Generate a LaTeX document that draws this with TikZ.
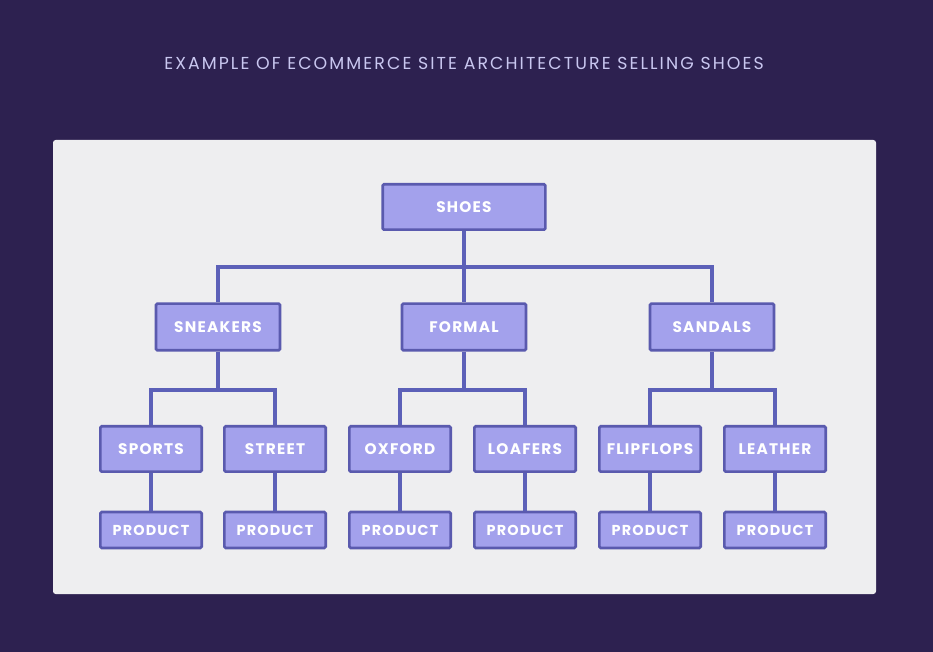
\documentclass[tikz,border=0pt]{standalone}
\usepackage{fontspec}
\setmainfont{Poppins}
\newfontfamily\titlefont{Poppins}[LetterSpace=12]
\newfontfamily\boxfont{Poppins}[LetterSpace=8]
\usetikzlibrary{positioning}
\definecolor{bgpurple}{HTML}{2D2150}
\definecolor{panelgray}{HTML}{EEEEF0}
\definecolor{boxfill}{HTML}{A3A1EC}
\definecolor{boxline}{HTML}{5A5AAE}
\definecolor{linkline}{HTML}{5C60B8}
\definecolor{titletext}{HTML}{C9C7F0}
\tikzset{
  box/.style={draw=boxline, fill=boxfill, line width=2pt, rounded corners=1pt,
    text=white, inner sep=0pt, font=\boxfont\bfseries\fontsize{11.5}{13}\selectfont},
  topbox/.style={box, minimum width=122pt, minimum height=34pt},
  catbox/.style={box, minimum width=93pt, minimum height=35pt},
  subbox/.style={box, minimum width=76pt, minimum height=34pt},
  prodbox/.style={box, minimum width=76pt, minimum height=27pt,
    font=\boxfont\bfseries\fontsize{10.8}{12}\selectfont},
  link/.style={draw=linkline, line width=2.5pt}
}
\begin{document}
\begin{tikzpicture}[x=0.75pt, y=-0.75pt]
    % background and panel
    \fill[bgpurple] (0,0) rectangle (933,652);
    \fill[panelgray, rounded corners=2pt] (53,140) rectangle (876,594);
    \node[text=titletext, font=\titlefont\fontsize{13}{15}\selectfont] (title) at (464,63)
        {EXAMPLE OF ECOMMERCE SITE ARCHITECTURE SELLING SHOES};

    \coordinate (rowa) at (0,267);
    \coordinate (rowb) at (0,390);
    \coordinate (rowc) at (0,530);

    % tree
    \node[topbox] (shoes) at (464,207) {SHOES};
    \node[catbox] (sneakers) at (218,327) {SNEAKERS};
    \node[catbox] (formal) at (464,327) {FORMAL};
    \node[catbox] (sandals) at (712,327) {SANDALS};

    \node[subbox] (sports) at (151,449) {SPORTS};
    \node[subbox] (street) at (275,449) {STREET};
    \node[subbox] (oxford) at (400,449) {OXFORD};
    \node[subbox] (loafers) at (525,449) {LOAFERS};
    \node[subbox] (flipflops) at (650,449) {FLIPFLOPS};
    \node[subbox] (leather) at (775,449) {LEATHER};

    \draw[link] (shoes) -- (formal);
    \draw[link] (sneakers) |- (sandals |- rowa) -- (sandals);

    \draw[link] (sneakers) -- (sneakers |- rowb);
    \draw[link] (sports) |- (street |- rowb) -- (street);
    \draw[link] (formal) -- (formal |- rowb);
    \draw[link] (oxford) |- (loafers |- rowb) -- (loafers);
    \draw[link] (sandals) -- (sandals |- rowb);
    \draw[link] (flipflops) |- (leather |- rowb) -- (leather);

    \foreach \n in {sports,street,oxford,loafers,flipflops,leather} {
        \node[prodbox] (\n p) at (\n |- rowc) {PRODUCT};
        \draw[link] (\n) -- (\n p);
    }
\end{tikzpicture}
\end{document}
